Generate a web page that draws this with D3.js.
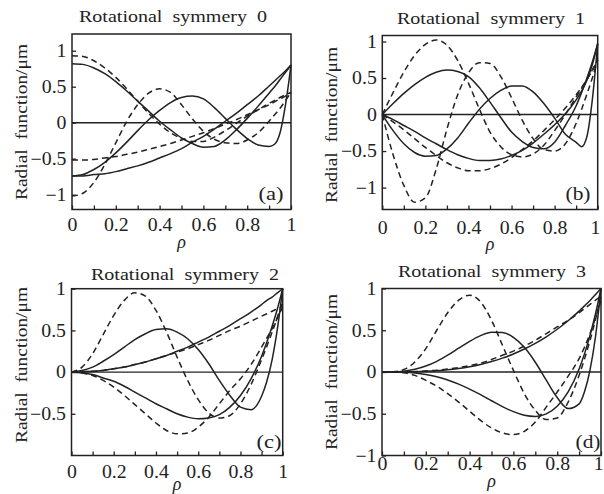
<!DOCTYPE html>
<html>
<head>
<meta charset="utf-8">
<script src="https://cdn.jsdelivr.net/npm/d3@7"></script>
<style>
body { margin: 0; background: #fff; }
text { font-family: "Liberation Serif", "Times New Roman", serif; fill: #222; }
</style>
</head>
<body>
<div id="chart"></div>
<script>
// sample points along rho (denser near the rim)
const rho = [0, 0.05, 0.1, 0.15, 0.2, 0.25, 0.3, 0.35, 0.4, 0.45, 0.5, 0.55, 0.6, 0.65, 0.7, 0.75, 0.8, 0.85, 0.9, 0.925, 0.95, 0.975, 1]

// tick values / labels
const xTicks = [0, 0.1, 0.2, 0.3, 0.4, 0.5, 0.6, 0.7, 0.8, 0.9, 1]
const xLabels = [0, 0.2, 0.4, 0.6, 0.8, 1]
const yTicksAB = [-1, -0.5, 0, 0.5, 1]
const yTicksC = [-0.5, 0, 0.5, 1]
const yTicksD = [-1, -0.5, 0, 0.5, 1]
const titles = ['Rotational  symmery  0', 'Rotational  symmery  1', 'Rotational  symmery  2', 'Rotational  symmery  3']
const tags = ['(a)', '(b)', '(c)', '(d)']
const yTitle = 'Radial  function/\u03bcm'

// (a) rotational symmetry 0
const aS2 = [-0.74, -0.74, -0.72, -0.71, -0.68, -0.64, -0.60, -0.55, -0.49, -0.43, -0.36, -0.27, -0.19, -0.09, 0.02, 0.13, 0.25, 0.37, 0.51, 0.58, 0.65, 0.72, 0.80]
const aS4 = [0.82, 0.81, 0.76, 0.68, 0.57, 0.44, 0.30, 0.16, 0.02, -0.10, -0.21, -0.29, -0.34, -0.33, -0.24, -0.10, 0.06, 0.23, 0.41, 0.50, 0.60, 0.70, 0.80]
const aS6 = [-0.74, -0.72, -0.65, -0.55, -0.42, -0.27, -0.11, 0.04, 0.17, 0.28, 0.35, 0.37, 0.33, 0.21, 0.06, -0.09, -0.22, -0.31, -0.33, -0.30, -0.14, 0.25, 0.80]
const aD2 = [-0.52, -0.52, -0.51, -0.49, -0.47, -0.44, -0.41, -0.37, -0.33, -0.29, -0.24, -0.19, -0.14, -0.08, -0.02, 0.04, 0.11, 0.18, 0.25, 0.29, 0.33, 0.37, 0.42]
const aD4 = [0.93, 0.92, 0.86, 0.76, 0.63, 0.47, 0.30, 0.13, -0.02, -0.14, -0.22, -0.26, -0.26, -0.20, -0.11, -0.01, 0.09, 0.18, 0.27, 0.31, 0.35, 0.39, 0.42]
const aD6 = [-1.02, -0.98, -0.83, -0.58, -0.28, 0.02, 0.25, 0.41, 0.47, 0.42, 0.25, 0.05, -0.12, -0.23, -0.28, -0.29, -0.24, -0.14, 0.02, 0.11, 0.20, 0.31, 0.42]

// (b) rotational symmetry 1
const bS3 = [0, -0.07, -0.15, -0.23, -0.32, -0.40, -0.48, -0.55, -0.60, -0.63, -0.63, -0.61, -0.56, -0.49, -0.39, -0.27, -0.14, 0.01, 0.20, 0.32, 0.47, 0.68, 0.97]
const bS5 = [0, 0.15, 0.29, 0.41, 0.51, 0.58, 0.61, 0.59, 0.52, 0.37, 0.17, -0.04, -0.24, -0.37, -0.45, -0.47, -0.38, -0.15, 0.12, 0.30, 0.50, 0.72, 0.97]
const bS7 = [0, -0.22, -0.40, -0.52, -0.57, -0.56, -0.47, -0.32, -0.12, 0.07, 0.22, 0.33, 0.39, 0.39, 0.31, 0.15, -0.05, -0.27, -0.38, -0.44, -0.30, 0.20, 0.97]
const bD3 = [0, -0.10, -0.21, -0.33, -0.45, -0.56, -0.66, -0.73, -0.77, -0.77, -0.74, -0.68, -0.59, -0.48, -0.36, -0.22, -0.07, 0.09, 0.27, 0.37, 0.48, 0.60, 0.75]
const bD5 = [0, 0.30, 0.58, 0.81, 0.96, 1.02, 0.95, 0.74, 0.43, 0.08, -0.24, -0.44, -0.55, -0.58, -0.54, -0.42, -0.22, 0.00, 0.24, 0.36, 0.48, 0.61, 0.75]
const bD7 = [0, -0.55, -0.97, -1.20, -1.14, -0.75, -0.20, 0.27, 0.57, 0.71, 0.70, 0.52, 0.23, -0.08, -0.33, -0.48, -0.50, -0.40, -0.12, 0.07, 0.28, 0.50, 0.75]

// (c) rotational symmetry 2
const cS2 = [0, 0.003, 0.01, 0.02, 0.04, 0.06, 0.09, 0.12, 0.16, 0.20, 0.25, 0.30, 0.36, 0.42, 0.49, 0.56, 0.64, 0.72, 0.81, 0.86, 0.90, 0.95, 1.0]
const cS4 = [0, -0.01, -0.03, -0.07, -0.11, -0.17, -0.24, -0.31, -0.38, -0.44, -0.50, -0.54, -0.56, -0.55, -0.51, -0.42, -0.28, -0.08, 0.19, 0.36, 0.55, 0.76, 1.0]
const cS6 = [0, 0.02, 0.06, 0.13, 0.21, 0.30, 0.39, 0.46, 0.51, 0.52, 0.48, 0.40, 0.27, 0.10, -0.10, -0.28, -0.42, -0.45, -0.29, -0.11, 0.15, 0.52, 1.0]
const cD2 = [0, 0.003, 0.01, 0.02, 0.04, 0.06, 0.09, 0.12, 0.16, 0.20, 0.24, 0.28, 0.33, 0.38, 0.44, 0.50, 0.55, 0.61, 0.67, 0.70, 0.73, 0.76, 0.79]
const cD4 = [0, -0.01, -0.04, -0.10, -0.18, -0.28, -0.39, -0.50, -0.61, -0.70, -0.74, -0.73, -0.66, -0.54, -0.38, -0.22, -0.08, 0.09, 0.30, 0.41, 0.52, 0.65, 0.78]
const cD6 = [0, 0.06, 0.22, 0.45, 0.68, 0.86, 0.95, 0.91, 0.74, 0.48, 0.18, -0.10, -0.33, -0.49, -0.55, -0.52, -0.38, -0.15, 0.15, 0.31, 0.48, 0.66, 0.85]

// (d) rotational symmetry 3
const dS3 = [0, 0, 0.001, 0.003, 0.008, 0.016, 0.027, 0.043, 0.064, 0.091, 0.125, 0.166, 0.216, 0.275, 0.343, 0.422, 0.512, 0.614, 0.729, 0.792, 0.857, 0.927, 1.0]
const dS5 = [0, 0, -0.004, -0.013, -0.030, -0.058, -0.096, -0.145, -0.205, -0.272, -0.344, -0.414, -0.475, -0.518, -0.532, -0.501, -0.410, -0.238, 0.037, 0.220, 0.440, 0.698, 1.0]
const dS7 = [0, 0.001, 0.010, 0.032, 0.071, 0.128, 0.202, 0.285, 0.367, 0.436, 0.477, 0.474, 0.415, 0.295, 0.117, -0.097, -0.306, -0.438, -0.381, -0.233, 0.026, 0.425, 1.0]
const dD3 = [0, 0, 0.002, 0.005, 0.012, 0.021, 0.035, 0.053, 0.075, 0.105, 0.15, 0.20, 0.25, 0.31, 0.38, 0.46, 0.54, 0.62, 0.71, 0.76, 0.81, 0.86, 0.91]
const dD5 = [0, 0, -0.01, -0.04, -0.10, -0.17, -0.26, -0.36, -0.47, -0.58, -0.67, -0.73, -0.75, -0.71, -0.60, -0.42, -0.24, -0.05, 0.16, 0.30, 0.46, 0.65, 0.85]
const dD7 = [0, 0.002, 0.03, 0.12, 0.28, 0.50, 0.71, 0.86, 0.92, 0.84, 0.62, 0.32, 0.02, -0.26, -0.46, -0.57, -0.55, -0.36, -0.04, 0.16, 0.38, 0.63, 0.90]

const w = 604
const h = 494

// layout of the four panels
const panels = [
    { x0: 72, x1: 291, y0: 34, y1: 209.5, yDomain: [-1.206, 1.232], yTicks: yTicksAB,
      solid: [aS2, aS4, aS6], dashed: [aD2, aD4, aD6],
      titleX: 173, titleY: 22, ylabX: 27, ylabY: 122, tagX: 271, tagY: 200, pad: 9, rhoY: 248 },
    { x0: 382.3, x1: 597.7, y0: 35.5, y1: 209.5, yDomain: [-1.30, 1.082], yTicks: yTicksAB,
      solid: [bS3, bS5, bS7], dashed: [bD3, bD5, bD7],
      titleX: 491, titleY: 24, ylabX: 337, ylabY: 125, tagX: 578, tagY: 200, pad: 12, rhoY: 250 },
    { x0: 71.5, x1: 282.7, y0: 288.7, y1: 455.5, yDomain: [-1, 1], yTicks: yTicksC,
      solid: [cS2, cS4, cS6], dashed: [cD2, cD4, cD6],
      titleX: 185, titleY: 280, ylabX: 27, ylabY: 365, tagX: 269, tagY: 448, pad: 10, rhoY: 490 },
    { x0: 382, x1: 601, y0: 288.5, y1: 455.5, yDomain: [-1, 1], yTicks: yTicksD,
      solid: [dS3, dS5, dS7], dashed: [dD3, dD5, dD7],
      titleX: 492, titleY: 277, ylabX: 337, ylabY: 372, tagX: 588, tagY: 448, pad: 2, rhoY: 487 }
]

const fmt = d => String(d).replace('-', '\u2212')

const svg = d3.select('#chart')
    .append('svg')
    .attr('width', w)
    .attr('height', h)

panels.forEach((p, k) => {
    const xScale = d3.scaleLinear().domain([0, 1]).range([p.x0, p.x1])
    const yScale = d3.scaleLinear().domain(p.yDomain).range([p.y1, p.y0])
    const g = svg.append('g')

    const line = d3.line()
        .x((d, i) => xScale(rho[i]))
        .y(d => yScale(d))
        .curve(d3.curveMonotoneX)

    // zero line
    g.append('line')
        .attr('x1', p.x0).attr('x2', p.x1)
        .attr('y1', yScale(0)).attr('y2', yScale(0))
        .attr('stroke', '#222').attr('stroke-width', 1.4)

    g.selectAll('path.dash')
        .data(p.dashed)
        .enter()
        .append('path')
        .attr('class', 'dash')
        .attr('d', line)
        .attr('fill', 'none')
        .attr('stroke', '#222')
        .attr('stroke-width', 1.5)
        .attr('stroke-dasharray', '6,4')

    g.selectAll('path.solid')
        .data(p.solid)
        .enter()
        .append('path')
        .attr('class', 'solid')
        .attr('d', line)
        .attr('fill', 'none')
        .attr('stroke', '#222')
        .attr('stroke-width', 1.5)

    // axes, ticks point inward
    const xAxis = d3.axisBottom(xScale)
        .tickValues(xTicks)
        .tickSizeInner(-4)
        .tickSizeOuter(0)
        .tickPadding(p.pad)
        .tickFormat(d => xLabels.includes(d) ? fmt(d) : '')

    const yAxis = d3.axisLeft(yScale)
        .tickValues(p.yTicks)
        .tickSizeInner(-4)
        .tickSizeOuter(0)
        .tickPadding(5)
        .tickFormat(fmt)

    const gx = g.append('g')
        .attr('transform', 'translate(0,' + p.y1 + ')')
        .call(xAxis)
    const gy = g.append('g')
        .attr('transform', 'translate(' + p.x0 + ',0)')
        .call(yAxis)

    ;[gx, gy].forEach(ax => {
        ax.select('.domain').remove()
        ax.selectAll('line').attr('stroke', '#222').attr('stroke-width', 1.3)
        ax.selectAll('text')
            .attr('font-family', '"Liberation Serif", serif')
            .attr('font-size', 18)
            .attr('fill', '#222')
            .attr('transform', 'scale(1.1,1)')
    })

    // last label sits at the page edge: keep it inside
    if (p.x1 > w - 8) {
        gx.selectAll('.tick text')
            .filter(d => d === 1)
            .attr('text-anchor', 'end')
            .attr('x', 2)
    }

    // frame
    g.append('rect')
        .attr('x', p.x0).attr('y', p.y0)
        .attr('width', p.x1 - p.x0).attr('height', p.y1 - p.y0)
        .attr('fill', 'none')
        .attr('stroke', '#222')
        .attr('stroke-width', 1.5)

    g.append('text')
        .attr('x', p.titleX).attr('y', p.titleY)
        .attr('text-anchor', 'middle')
        .attr('font-size', 16)
        .attr('textLength', 188)
        .attr('lengthAdjust', 'spacingAndGlyphs')
        .style('white-space', 'pre')
        .text(titles[k])

    g.append('text')
        .attr('transform', 'translate(' + p.ylabX + ',' + p.ylabY + ') rotate(-90)')
        .attr('text-anchor', 'middle')
        .attr('font-size', 17)
        .attr('textLength', 156)
        .attr('lengthAdjust', 'spacingAndGlyphs')
        .style('white-space', 'pre')
        .text(yTitle)

    g.append('text')
        .attr('x', p.tagX).attr('y', p.tagY)
        .attr('text-anchor', 'middle')
        .attr('font-size', 19)
        .attr('textLength', 25)
        .attr('lengthAdjust', 'spacingAndGlyphs')
        .text(tags[k])

    g.append('text')
        .attr('x', (p.x0 + p.x1) / 2).attr('y', p.rhoY)
        .attr('text-anchor', 'middle')
        .attr('font-size', 18)
        .attr('font-style', 'italic')
        .text('\u03c1')
})
</script>
</body>
</html>
